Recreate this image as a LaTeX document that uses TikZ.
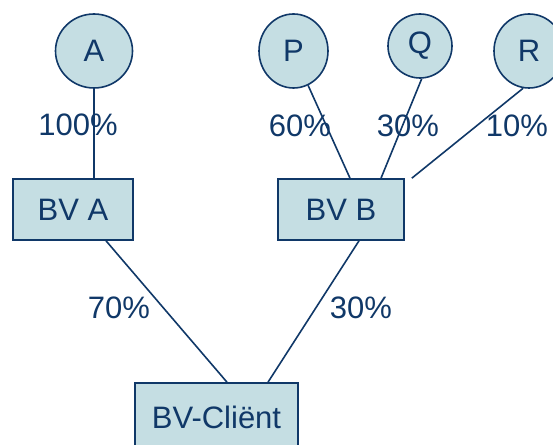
\documentclass[tikz,border=0pt]{standalone}
\usepackage{fontspec}
\setmainfont{Liberation Sans}
\usepackage{tikz}
\usetikzlibrary{shapes.geometric}
\definecolor{navy}{RGB}{16,56,104}
\definecolor{paleblue}{RGB}{197,222,227}

\begin{document}
\begin{tikzpicture}[x=1pt, y=1pt,
        owner/.style={ellipse, draw=navy, fill=paleblue, line width=1.6pt, inner sep=0pt},
        bv/.style={rectangle, draw=navy, fill=paleblue, line width=1.6pt, inner sep=0pt},
        pct/.style={text=navy, inner sep=0pt},
        link/.style={draw=navy, line width=1.6pt}]
        \useasboundingbox (0,0) rectangle (553,444);
        \clip (0,0) rectangle (553,444);
        \fontsize{31}{36}\selectfont

        \node[owner, minimum width=77, minimum height=74, text=navy] (a) at (94, 393) {A};
        \node[owner, minimum width=69, minimum height=74, text=navy] (p) at (293.5, 393) {P};
        \node[owner, minimum width=64, minimum height=64, text=navy] (q) at (420, 398) {Q};
        \node[owner, minimum width=70, minimum height=74, text=navy] (r) at (529, 393) {R};

        \node[bv, minimum width=120, minimum height=61, text=navy] (bva) at (73, 234.5) {BV A};
        \node[bv, minimum width=126, minimum height=61, text=navy] (bvb) at (341, 234.5) {BV B};
        \node[bv, minimum width=163, minimum height=68, text=navy] (client) at (216.5, 27) {BV-Cliënt};

        \draw[link] (a.south) -- (a.south |- bva.north);
        \draw[link] (p.-67) -- ([xshift=9pt]bvb.north);
        \draw[link] (q.-87) -- ([xshift=40pt]bvb.north);
        \draw[link] (r.-99) -- ([xshift=7pt]bvb.north east);
        \draw[link] ([xshift=33pt]bva.south) -- ([xshift=10.5pt]client.north);
        \draw[link] ([xshift=18pt]bvb.south) -- ([xshift=51.5pt]client.north);

        \node[pct] (pa) at (78, 319) {100\%};
        \node[pct] (pp) at (300, 318) {60\%};
        \node[pct] (pq) at (408, 318) {30\%};
        \node[pct] (pr) at (517, 318) {10\%};
        \node[pct] (pbva) at (119, 136) {70\%};
        \node[pct] (pbvb) at (361, 136) {30\%};
\end{tikzpicture}
\end{document}
